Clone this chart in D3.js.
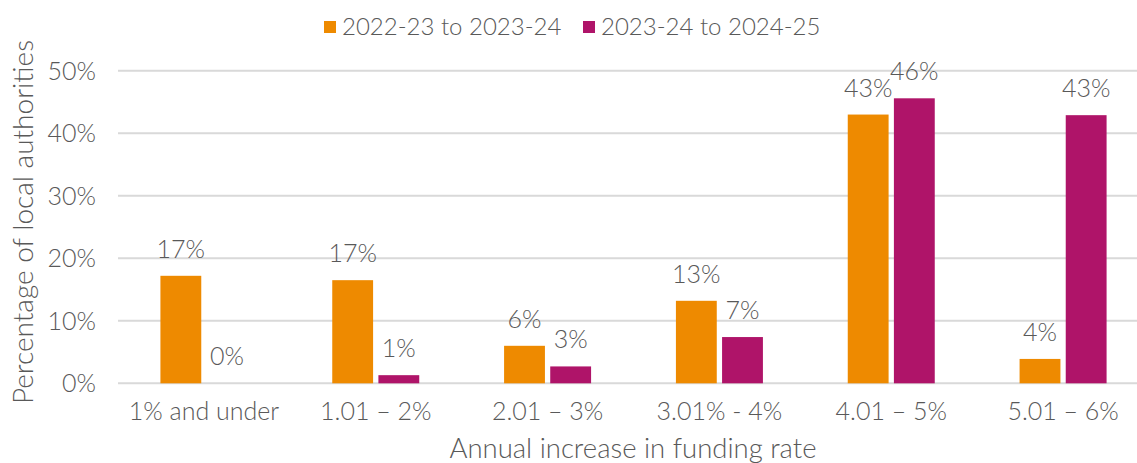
<!DOCTYPE html>
<html>
<head>
<meta charset="utf-8">
<script src="https://cdn.jsdelivr.net/npm/d3@7"></script>
<style>
  body { margin: 0; background: #fff; }
  svg { display: block; font-family: Lato, "Open Sans", sans-serif; font-weight: 300; }
</style>
</head>
<body>
<svg id="chart" width="1137" height="463"></svg>
<script>
const categories = ['1% and under', '1.01 – 2%', '2.01 – 3%', '3.01% - 4%', '4.01 – 5%', '5.01 – 6%'];
const seriesNames = ['2022-23 to 2023-24', '2023-24 to 2024-25'];
const series2223 = [17.2, 16.5, 6.0, 13.2, 43.0, 3.9];
const series2324 = [0, 1.3, 2.7, 7.4, 45.6, 42.9];
const labels2223 = ['17%', '17%', '6%', '13%', '43%', '4%'];
const labels2324 = ['0%', '1%', '3%', '7%', '46%', '43%'];
const yTicks = [0, 10, 20, 30, 40, 50];

const colors = ['#EE8A00', '#AF1469'];
const textColor = '#595959';

const svg = d3.select('#chart');
const margin = { top: 71, right: -12, bottom: 80, left: 118 };
const width = 1137, height = 463;

const x = d3.scaleBand()
    .domain(categories)
    .range([margin.left, width - margin.right])
    .paddingInner(0)
    .paddingOuter(0);

// two bars per category, ~38.5px wide with a 10px gap
const xInner = d3.scaleBand()
    .domain(seriesNames)
    .range([-43.5, 43.5])
    .paddingInner(10 / 87)
    .paddingOuter(0);

const y = d3.scaleLinear()
    .domain([0, 50])
    .range([383.3, 70.8]);

// gridlines
svg.append('g')
    .selectAll('line')
    .data(yTicks)
    .join('line')
    .attr('x1', margin.left)
    .attr('x2', width)
    .attr('y1', d => y(d))
    .attr('y2', d => y(d))
    .attr('stroke', '#d9d9d9')
    .attr('stroke-width', 2);

// y tick labels
svg.append('g')
    .selectAll('text')
    .data(yTicks)
    .join('text')
    .attr('x', 96)
    .attr('y', d => y(d))
    .attr('dy', '0.36em')
    .attr('text-anchor', 'end')
    .attr('fill', textColor)
    .attr('font-size', 25)
    .text(d => d + '%');

// bars
const rows = categories.map((c, i) => ({
    cat: c,
    vals: [
        { s: seriesNames[0], v: series2223[i], label: labels2223[i], color: colors[0] },
        { s: seriesNames[1], v: series2324[i], label: labels2324[i], color: colors[1] }
    ]
}));

const groups = svg.append('g')
    .selectAll('g')
    .data(rows)
    .join('g')
    .attr('transform', d => `translate(${x(d.cat) + x.bandwidth() / 2},0)`);

groups.selectAll('rect')
    .data(d => d.vals)
    .join('rect')
    .attr('x', d => xInner(d.s))
    .attr('width', xInner.bandwidth())
    .attr('y', d => y(d.v))
    .attr('height', d => y(0) - y(d.v))
    .attr('fill', d => d.color);

groups.selectAll('text')
    .data(d => d.vals)
    .join('text')
    .attr('x', d => xInner(d.s) + xInner.bandwidth() / 2)
    .attr('y', d => y(d.v) - 18)
    .attr('text-anchor', 'middle')
    .attr('fill', textColor)
    .attr('font-size', 25)
    .text(d => d.label);

// x tick labels
svg.append('g')
    .selectAll('text')
    .data(categories)
    .join('text')
    .attr('x', d => x(d) + x.bandwidth() / 2)
    .attr('y', 420)
    .attr('text-anchor', 'middle')
    .attr('fill', textColor)
    .attr('font-size', 25)
    .text(d => d);

// axis titles
svg.append('text')
    .attr('x', 633)
    .attr('y', 458)
    .attr('text-anchor', 'middle')
    .attr('fill', textColor)
    .attr('font-size', 27.5)
    .text('Annual increase in funding rate');

svg.append('text')
    .attr('transform', 'translate(33,222) rotate(-90)')
    .attr('text-anchor', 'middle')
    .attr('fill', textColor)
    .attr('font-size', 28)
    .text('Percentage of local authorities');

// legend
const legendX = [324, 583];
const legend = svg.append('g')
    .selectAll('g')
    .data(seriesNames)
    .join('g')
    .attr('transform', (d, i) => `translate(${legendX[i]},21)`);

legend.append('rect')
    .attr('width', 12)
    .attr('height', 12)
    .attr('fill', (d, i) => colors[i]);

legend.append('text')
    .attr('x', 18)
    .attr('y', 14)
    .attr('fill', textColor)
    .attr('font-size', 24)
    .text(d => d);
</script>
</body>
</html>
